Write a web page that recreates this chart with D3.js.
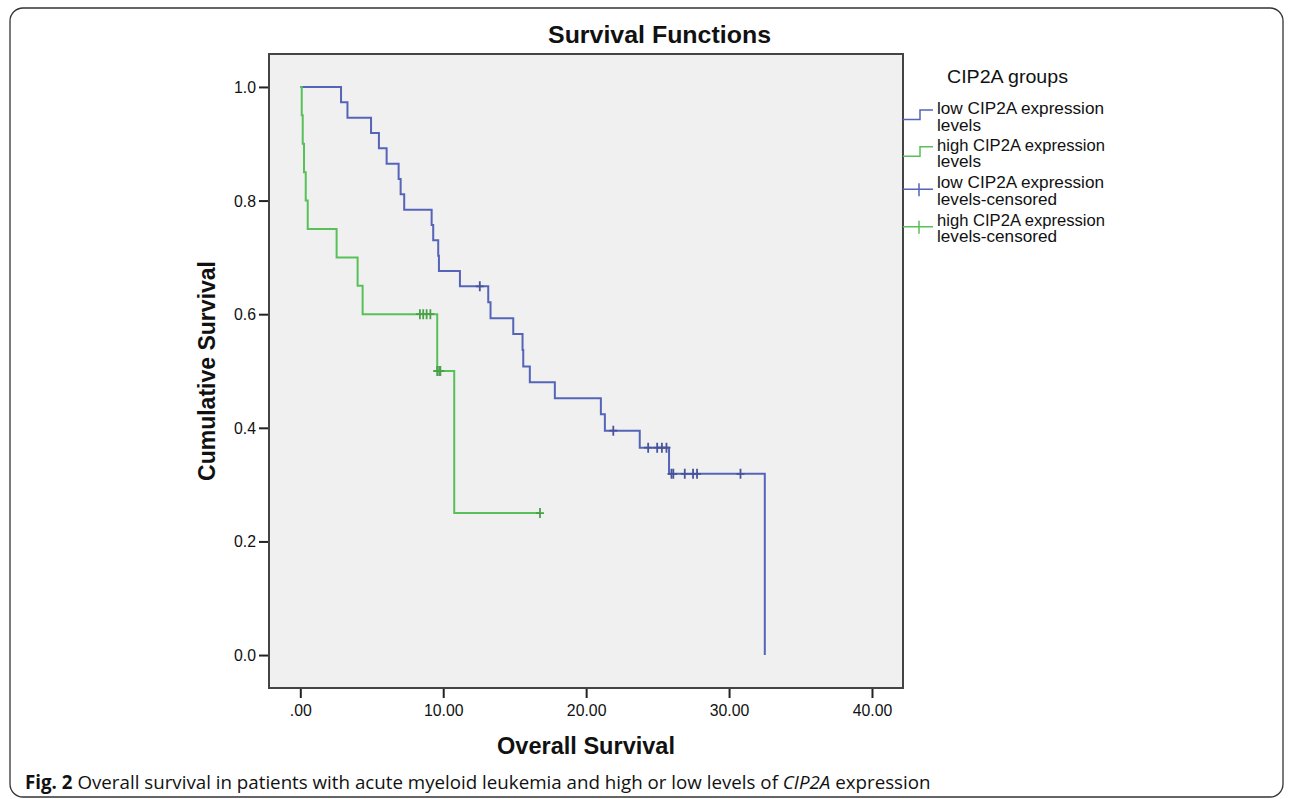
<!DOCTYPE html>
<html>
<head>
<meta charset="utf-8">
<script src="https://cdn.jsdelivr.net/npm/d3@7.9.0/dist/d3.min.js"></script>
<style>
  html, body { margin: 0; padding: 0; background: #fff; }
  svg { display: block; }
  text { font-family: "Liberation Sans", Arial, sans-serif; fill: #111; }
</style>
</head>
<body>
<svg id="chart" width="1290" height="799"></svg>
<script>
// Kaplan-Meier steps (time in months, survival after the step)
const lowTimes = [0, 2.85, 3.3, 4.95, 5.5, 6.04, 6.88, 7.02, 7.27, 9.19, 9.3, 9.65, 9.7, 11.17,
  13.15, 13.31, 14.9, 15.55, 15.6, 16.06, 17.81, 21.03, 21.31, 23.75, 25.8, 32.5];
const lowSurv = [1.0, 0.973, 0.946, 0.919, 0.892, 0.865, 0.838, 0.811, 0.784, 0.757, 0.73, 0.703, 0.676, 0.649,
  0.621, 0.593, 0.565, 0.537, 0.508, 0.48, 0.452, 0.424, 0.395, 0.365, 0.319, 0.0];
const lowCensored = [12.56, 21.9, 24.34, 24.97, 25.3, 25.62, 25.97, 26.1, 26.9, 27.48, 27.76, 30.8];

const highTimes = [0, 0.1, 0.17, 0.26, 0.38, 0.52, 2.54, 4.01, 4.36, 9.58, 10.77, 16.77];
const highSurv = [1.0, 0.95, 0.9, 0.85, 0.8, 0.75, 0.7, 0.65, 0.6, 0.5, 0.25, 0.25];
const highCensored = [8.37, 8.6, 8.84, 9.1, 9.58, 9.72, 9.8, 16.77];

const xTicks = [0, 10, 20, 30, 40];
const xTickLabels = [".00", "10.00", "20.00", "30.00", "40.00"];
const yTicks = [0, 0.2, 0.4, 0.6, 0.8, 1.0];

const groups = ["low CIP2A expression levels", "high CIP2A expression levels",
  "low CIP2A expression levels-censored", "high CIP2A expression levels-censored"];

const blue = "#5564b8";
const green = "#58c058";

const svg = d3.select("#chart");

// outer figure frame
svg.append("rect")
  .attr("x", 10).attr("y", 8).attr("width", 1273).attr("height", 789)
  .attr("rx", 13).attr("fill", "none").attr("stroke", "#333").attr("stroke-width", 1.3);

const plot = { left: 269, right: 903, top: 54, bottom: 688 };

const x = d3.scaleLinear().domain([-2.19, 42.17]).range([plot.left, plot.right]);
const y = d3.scaleLinear().domain([-0.058, 1.058]).range([plot.bottom, plot.top]);

svg.append("rect")
  .attr("x", plot.left).attr("y", plot.top)
  .attr("width", plot.right - plot.left).attr("height", plot.bottom - plot.top)
  .attr("fill", "#f0f0f0");

// axes
const xAxis = svg.append("g")
  .attr("transform", `translate(0,${plot.bottom})`)
  .call(d3.axisBottom(x).tickValues(xTicks).tickSize(10).tickPadding(6)
    .tickFormat((d, i) => xTickLabels[i]));
const yAxis = svg.append("g")
  .attr("transform", `translate(${plot.left},0)`)
  .call(d3.axisLeft(y).tickValues(yTicks).tickSize(10).tickPadding(3)
    .tickFormat(d3.format(".1f")));
[xAxis, yAxis].forEach(g => {
  g.select(".domain").remove();
  g.selectAll(".tick line").attr("stroke", "#222").attr("stroke-width", 2);
  g.selectAll(".tick text").attr("font-size", 17).attr("fill", "#111")
    .attr("font-family", "'Liberation Sans', Arial, sans-serif");
});
xAxis.selectAll(".tick text").each(function () {
  const w = this.getComputedTextLength();
  d3.select(this).attr("textLength", w * 0.93).attr("lengthAdjust", "spacingAndGlyphs");
});
yAxis.selectAll(".tick text").each(function () {
  const w = this.getComputedTextLength();
  d3.select(this).attr("textLength", w * 0.93).attr("lengthAdjust", "spacingAndGlyphs");
});

svg.append("rect")
  .attr("x", plot.left).attr("y", plot.top)
  .attr("width", plot.right - plot.left).attr("height", plot.bottom - plot.top)
  .attr("fill", "none").attr("stroke", "#444").attr("stroke-width", 2);

// curves
const line = d3.line().x(d => x(d[0])).y(d => y(d[1])).curve(d3.curveStepAfter);

function stepAt(times, surv, t) {
  let s = surv[0];
  for (let i = 0; i < times.length; i++) if (times[i] <= t) s = surv[i];
  return s;
}

function drawGroup(times, surv, censored, color) {
  const pts = times.map((t, i) => [t, surv[i]]);
  svg.append("path").attr("d", line(pts))
    .attr("fill", "none").attr("stroke", color).attr("stroke-width", 2);
  svg.append("g").selectAll("path").data(censored).join("path")
    .attr("d", t => {
      const cx = x(t), cy = y(stepAt(times, surv, t));
      return `M${cx},${cy - 5}V${cy + 5}M${cx - 4},${cy}H${cx + 4}`;
    })
    .attr("stroke", d3.color(color).darker(0.5)).attr("stroke-width", 1.8).attr("fill", "none");
}

drawGroup(lowTimes, lowSurv, lowCensored, blue);
drawGroup(highTimes, highSurv, highCensored, green);

// titles
function fit(sel, w) { return sel.attr("textLength", w).attr("lengthAdjust", "spacingAndGlyphs"); }

fit(svg.append("text").attr("x", 659.5).attr("y", 43).attr("text-anchor", "middle")
  .attr("font-size", 24).attr("font-weight", "bold").text("Survival Functions"), 223);
fit(svg.append("text").attr("x", (plot.left + plot.right) / 2).attr("y", 754).attr("text-anchor", "middle")
  .attr("font-size", 23).attr("font-weight", "bold").text("Overall Survival"), 178);
fit(svg.append("text").attr("transform", `translate(215,${(plot.top + plot.bottom) / 2}) rotate(-90)`)
  .attr("text-anchor", "middle")
  .attr("font-size", 23).attr("font-weight", "bold").text("Cumulative Survival"), 220);

// legend
const leg = svg.append("g");
fit(leg.append("text").attr("x", 947).attr("y", 83).attr("font-size", 19).text("CIP2A groups"), 121);

const legBase = [114, 150.7, 188.3, 225.7];
const legColors = [blue, green, blue, green];
groups.forEach((g, i) => {
  const yb = legBase[i];
  const first = g.split(" ").slice(0, 3).join(" ");
  const second = g.split(" ").slice(3).join(" ");
  fit(leg.append("text").attr("x", 937).attr("y", yb).attr("font-size", 17).text(first),
    first.startsWith("low") ? 167 : 168);
  fit(leg.append("text").attr("x", 937).attr("y", yb + 16.7).attr("font-size", 17).text(second),
    second === "levels" ? 44 : 120);
  const c = legColors[i];
  if (i < 2) {
    const lo = yb + 5.5, hi = yb - 4;
    leg.append("path").attr("d", `M903,${lo}H920V${hi}H933`)
      .attr("fill", "none").attr("stroke", c).attr("stroke-width", 1.5);
  } else {
    const ly = yb + 1;
    leg.append("path").attr("d", `M903,${ly}H933M919,${ly - 6}V${ly + 7}`)
      .attr("fill", "none").attr("stroke", c).attr("stroke-width", 1.5);
  }
});

// caption: size it so the line spans the same width as in the figure
const cap = svg.append("text").attr("x", 25).attr("y", 789)
  .style("font-family", "'Open Sans', 'Noto Sans', sans-serif").attr("font-size", 19).attr("fill", "#222");
cap.append("tspan").attr("font-weight", "bold").text("Fig. 2");
cap.append("tspan").text(" Overall survival in patients with acute myeloid leukemia and high or low levels of ");
cap.append("tspan").attr("font-style", "italic").text("CIP2A");
cap.append("tspan").text(" expression");
const capW = cap.node().getComputedTextLength();
cap.attr("font-size", 19 * 906 / capW);
</script>
</body>
</html>
